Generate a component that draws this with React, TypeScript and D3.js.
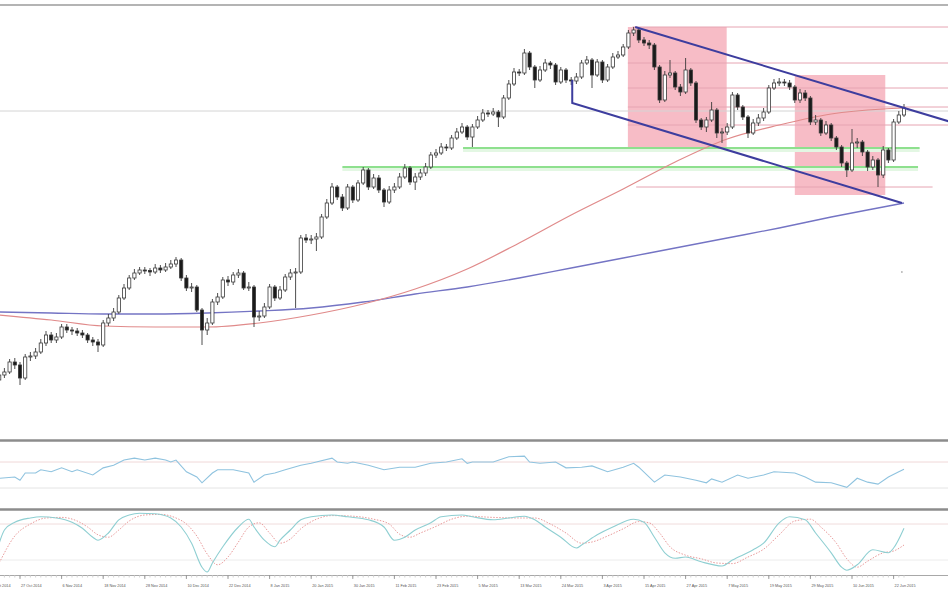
import React from 'react';
import * as d3 from 'd3';

const W = 948;
const H = 593;

// ---- OHLC (open = previous close) ----
const firstOpen = 8880;
const closes = [
  8930, 8960, 9060, 9030, 8900, 9110, 9120, 9160, 9250, 9330,
  9280, 9310, 9410, 9380, 9370, 9350, 9330, 9280, 9260, 9230,
  9450, 9500, 9560, 9700, 9800, 9900, 9950, 9980, 9975, 9960,
  10000, 9980, 10010, 10040, 10080, 9900, 9800, 9810, 9580, 9380,
  9450, 9660, 9710, 9880, 9860, 9930, 9950, 9800, 9810, 9510,
  9520, 9610, 9810, 9700, 9780, 9910, 9950, 9960, 10300, 10280,
  10290, 10310, 10510, 10650, 10810, 10710, 10600, 10810, 10680, 10850,
  10980, 10810, 10900, 10780, 10660, 10780, 10810, 10910, 11000, 10860,
  10910, 10950, 11010, 11130, 11150, 11210, 11200, 11300, 11360, 11410,
  11310, 11410, 11480, 11550, 11540, 11560, 11510, 11700, 11840, 11960,
  11950, 12150, 12010, 11880, 11980, 12050, 12030, 11860, 11980, 11880,
  11870, 11910, 12050, 12080, 11930, 12060, 11880, 12010, 12110, 12130,
  12210, 12350, 12380, 12280, 12250, 12230, 12010, 11680, 11930, 11950,
  11810, 11760, 11980, 11850, 11480, 11410, 11480, 11580, 11350, 11360,
  11410, 11730, 11610, 11510, 11350, 11450, 11500, 11560, 11800, 11850,
  11860, 11850, 11810, 11680, 11750, 11700, 11460, 11480, 11350, 11430,
  11300, 11210, 11050, 10980, 11250, 11260, 11160, 11010, 11080, 10930,
  11180, 11080, 11460, 11530, 11600,
];
const highs = [
  8970, 9000, 9090, 9100, 9060, 9140, 9160, 9200, 9290, 9370,
  9360, 9350, 9440, 9440, 9410, 9400, 9380, 9350, 9310, 9290,
  9480, 9540, 9600, 9730, 9840, 9930, 9990, 10010, 10010, 10000,
  10040, 10030, 10050, 10080, 10110, 10100, 9930, 9850, 9830, 9600,
  9500, 9690, 9750, 9910, 9920, 9960, 9990, 9970, 9860, 9830,
  9570, 9650, 9840, 9830, 9820, 9940, 9990, 10000, 10330, 10340,
  10330, 10350, 10540, 10690, 10850, 10830, 10740, 10840, 10830, 10880,
  11010, 11000, 10940, 10930, 10800, 10820, 10850, 10950, 11040, 11020,
  10950, 10990, 11050, 11160, 11190, 11250, 11240, 11330, 11400, 11450,
  11430, 11440, 11520, 11590, 11580, 11600, 11580, 11730, 11880, 12000,
  11990, 12190, 12170, 12030, 12020, 12090, 12070, 12050, 12010, 12000,
  11910, 11950, 12080, 12120, 12100, 12090, 12080, 12040, 12150, 12170,
  12240, 12380, 12410, 12400, 12310, 12280, 12250, 12030, 11970, 12080,
  11970, 11840, 12100, 12000, 11870, 11500, 11510, 11660, 11600, 11400,
  11450, 11760, 11750, 11630, 11530, 11490, 11540, 11600, 11830, 11890,
  11900, 11890, 11880, 11830, 11790, 11780, 11720, 11530, 11500, 11470,
  11450, 11320, 11230, 11070, 11390, 11300, 11280, 11180, 11120, 11100,
  11220, 11200, 11490, 11570, 11640,
];
const lows = [
  8850, 8900, 8940, 8990, 8830, 8880, 9070, 9090, 9140, 9220,
  9250, 9250, 9290, 9350, 9330, 9320, 9300, 9250, 9220, 9160,
  9210, 9420, 9470, 9540, 9680, 9780, 9880, 9930, 9940, 9920,
  9940, 9950, 9960, 9990, 10010, 9870, 9770, 9760, 9560, 9230,
  9330, 9430, 9630, 9690, 9820, 9830, 9900, 9780, 9770, 9410,
  9470, 9500, 9590, 9670, 9680, 9760, 9880, 9600, 9940, 10250,
  10240, 10170, 10290, 10490, 10630, 10680, 10570, 10580, 10650, 10660,
  10830, 10780, 10790, 10750, 10610, 10640, 10750, 10790, 10890, 10830,
  10780, 10880, 10920, 10990, 11100, 11130, 11170, 11180, 11280, 11340,
  11280, 11210, 11390, 11460, 11510, 11520, 11410, 11490, 11680, 11820,
  11920, 11930, 11980, 11800, 11860, 11960, 11990, 11830, 11840, 11850,
  11830, 11840, 11890, 12030, 11800, 11910, 11850, 11860, 11990, 12090,
  12110, 12190, 12320, 12250, 12220, 12190, 11980, 11650, 11660, 11900,
  11780, 11720, 11740, 11820, 11450, 11380, 11360, 11460, 11300, 11250,
  11330, 11390, 11580, 11480, 11300, 11330, 11420, 11470, 11540, 11780,
  11820, 11820, 11780, 11650, 11650, 11670, 11430, 11430, 11320, 11330,
  11270, 11180, 11010, 10910, 10960, 11200, 11120, 10970, 10980, 10810,
  10900, 11050, 11060, 11440, 11510,
];

// ---- moving averages (sampled at bar indices) ----
const maIdx = [0, 10, 20, 30, 40, 50, 60, 70, 80, 90, 100, 110, 120, 130, 140, 150, 160, 170, 174];
const maFast = [9530, 9480, 9420, 9410, 9410, 9450, 9530, 9640, 9790, 9990, 10250, 10530, 10790, 11060, 11290, 11430, 11540, 11590, 11600];
const maSlow = [9560, 9550, 9540, 9540, 9550, 9570, 9600, 9660, 9740, 9810, 9900, 10000, 10100, 10200, 10300, 10400, 10510, 10610, 10650];

// ---- RSI ----
const rsiIdx = [0,3,4,5,7,8,10,12,14,15,18,20,22,24,26,28,30,32,33,34,36,38,39,41,42,45,48,49,51,53,55,58,60,64,65,67,68,71,74,77,80,83,86,89,90,91,95,98,101,102,104,107,109,112,114,117,120,122,123,126,128,131,134,136,137,139,142,144,147,149,153,155,157,160,163,165,167,169,171,173,174];
const rsiVal = [45,47,42,53,53,58,55,61,55,58,50,61,65,73,76,73,76,73,70,73,55,47,38,53,58,58,53,39,50,53,58,65,68,76,70,68,70,65,58,62,62,68,70,75,68,70,70,78,79,70,68,70,61,62,64,55,62,68,62,39,50,47,42,38,44,39,50,45,50,55,53,47,39,38,31,45,39,36,47,55,59];

// ---- Stochastic ----
const stochIdx = [0,1,3,6,8,11,14,16,18,19,21,23,25,27,30,33,35,37,39,40,41,43,46,48,49,51,53,54,56,58,60,64,67,71,74,76,78,80,83,85,89,91,95,98,101,103,105,108,111,112,115,118,122,124,126,128,130,132,135,139,141,145,147,150,152,155,157,160,162,163,165,168,171,172,174];
const stochK = [48,70,83,90,92,90,83,73,58,53,65,87,95,98,97,90,75,48,8,0,15,42,75,88,75,53,42,53,70,87,92,95,92,87,75,53,58,70,82,92,95,92,87,90,93,87,75,58,40,45,62,75,88,83,58,32,23,25,17,10,20,37,48,82,92,87,65,32,8,3,12,37,32,40,73];
const sigIdx = [0,3,6,9,12,15,17,19,21,23,25,28,31,34,36,38,40,42,44,46,48,50,52,54,56,58,61,64,68,72,75,77,79,81,84,87,90,95,100,103,106,109,112,114,117,120,123,125,127,129,132,135,138,141,144,147,150,153,156,158,161,163,165,167,170,172,174];
const stochD = [15,60,80,90,91,85,75,62,58,70,85,95,96,90,80,60,30,12,25,50,75,82,65,48,55,72,88,94,93,88,80,63,58,65,76,88,93,91,90,90,80,65,48,50,60,72,84,82,65,42,28,22,15,14,25,38,62,85,88,75,48,22,8,18,32,35,45];

// ---- x-axis labels ----
const tickLabels = [
  '15 Oct 2014', '27 Oct 2014', '6 Nov 2014', '18 Nov 2014', '28 Nov 2014', '10 Dec 2014',
  '22 Dec 2014', '8 Jan 2015', '20 Jan 2015', '30 Jan 2015', '11 Feb 2015', '23 Feb 2015',
  '5 Mar 2015', '13 Mar 2015', '24 Mar 2015', '3 Apr 2015', '15 Apr 2015', '27 Apr 2015',
  '7 May 2015', '19 May 2015', '29 May 2015', '10 Jun 2015', '22 Jun 2015',
];
const tickIdx = [-2, 4, 12, 20, 28, 36, 44, 52, 60, 68, 76, 84, 92, 100, 108, 116, 124, 132, 140, 148, 156, 164, 172];

// ---- drawn objects (bar index, price) ----
const zones = [
  { i0: 120.9, i1: 139.9, p0: 11200, p1: 12410 },
  { i0: 153, i1: 170.4, p0: 10730, p1: 11930 },
];
const fibLevels = [
  { p: 12410, i0: 121.8, i1: 183 },
  { p: 12050, i0: 120.9, i1: 183 },
  { p: 11800, i0: 120.9, i1: 183 },
  { p: 11610, i0: 120.9, i1: 183 },
  { p: 11430, i0: 120.9, i1: 183 },
  { p: 10810, i0: 122.5, i1: 179.5 },
];
const greenLevels = [
  { p: 11200, i0: 89.2, i1: 177 },
  { p: 11010, i0: 66, i1: 176.7 },
];
const upperChannel = [ [122.3, 12410], [183, 11460] ];
const lowerChannel = [ [110.2, 11880], [110.2, 11650], [173.6, 10650] ];
const grayLevel = 11570;

export default function App() {
  const x = d3.scaleLinear().domain([0, 174]).range([-0.8, 904]);
  const y = d3.scaleLinear().domain([8300, 12620]).range([438, 6]);
  const yR = d3.scaleLinear().domain([0, 100]).range([507.5, 442.5]);
  const yS = d3.scaleLinear().domain([0, 100]).range([572, 512]);

  const opens = closes.map((c, i) => (i === 0 ? firstOpen : closes[i - 1]));

  const maLine = d3.line<number>()
    .x((_, k) => x(maIdx[k]))
    .y((v) => y(v))
    .curve(d3.curveMonotoneX);

  const rsiLine = d3.line<number>().x((_, k) => x(rsiIdx[k])).y((v) => yR(v));
  const kLine = d3.line<number>().x((_, k) => x(stochIdx[k])).y((v) => yS(v)).curve(d3.curveMonotoneX);
  const dLine = d3.line<number>().x((_, k) => x(sigIdx[k])).y((v) => yS(v)).curve(d3.curveMonotoneX);
  const pLine = d3.line<number[]>().x((d) => x(d[0])).y((d) => y(d[1]));

  const bw = 3.2;

  return (
    <svg
      width={W}
      height={H}
      viewBox={`0 0 ${W} ${H}`}
      style={{ position: 'absolute', left: 0, top: 0, background: '#fff', fontFamily: 'Liberation Sans, Arial, sans-serif' }}
    >
      <rect x={0} y={0} width={W} height={H} fill="#fff" />
      <defs>
        <clipPath id="mainClip"><rect x={0} y={6} width={W} height={433} /></clipPath>
      </defs>

      {/* top border */}
      <line x1={0} x2={W} y1={5} y2={5} stroke="#b4b4b4" strokeWidth={2} />

      <g clipPath="url(#mainClip)">
        {zones.map((z, k) => (
          <rect key={k} x={x(z.i0)} y={y(z.p1)} width={x(z.i1) - x(z.i0)} height={y(z.p0) - y(z.p1)} fill="#f7bcc6" />
        ))}
        <line x1={0} x2={W} y1={y(grayLevel)} y2={y(grayLevel)} stroke="#d4d4d4" strokeWidth={1} />
        {fibLevels.map((f, k) => (
          <line key={k} x1={x(f.i0)} x2={x(f.i1)} y1={y(f.p)} y2={y(f.p)} stroke="#e6a4b2" strokeWidth={1} />
        ))}
        {greenLevels.map((g, k) => (
          <g key={k}>
            <line x1={x(g.i0)} x2={x(g.i1)} y1={y(g.p) + 2} y2={y(g.p) + 2} stroke="#e3f7e3" strokeWidth={4} />
            <line x1={x(g.i0)} x2={x(g.i1)} y1={y(g.p)} y2={y(g.p)} stroke="#8ee08e" strokeWidth={2} />
          </g>
        ))}
        <path d={maLine(maSlow) || ''} fill="none" stroke="#7474c4" strokeWidth={1.3} />
        <path d={maLine(maFast) || ''} fill="none" stroke="#e08a8a" strokeWidth={1.2} />

        {closes.map((c, i) => {
          const o = opens[i];
          const cx = x(i);
          const top = y(Math.max(o, c));
          const bot = y(Math.min(o, c));
          const bull = c >= o;
          const hi = Math.max(highs[i], o, c);
          const lo = Math.min(lows[i], o, c);
          return (
            <g key={i}>
              <line x1={cx} x2={cx} y1={y(hi)} y2={y(lo)} stroke="#3a3a3a" strokeWidth={0.9} />
              <rect
                x={cx - bw / 2}
                y={top}
                width={bw}
                height={Math.max(1, bot - top)}
                fill={bull ? '#ffffff' : '#1a1a1a'}
                stroke="#3a3a3a"
                strokeWidth={0.8}
              />
            </g>
          );
        })}

        <path d={pLine(upperChannel) || ''} fill="none" stroke="#3d3d9e" strokeWidth={2} />
        <path d={pLine(lowerChannel) || ''} fill="none" stroke="#3d3d9e" strokeWidth={2} />

        <line x1={x(173.6)} x2={x(173.6)} y1={y(9970)} y2={y(9950)} stroke="#999" strokeWidth={1} />
      </g>

      <line x1={0} x2={W} y1={440.5} y2={440.5} stroke="#8c8c8c" strokeWidth={2.5} />
      <line x1={0} x2={W} y1={509.5} y2={509.5} stroke="#8c8c8c" strokeWidth={2.5} />

      <line x1={0} x2={W} y1={yR(70)} y2={yR(70)} stroke="#f0d8d8" strokeWidth={1} />
      <line x1={0} x2={W} y1={yR(30)} y2={yR(30)} stroke="#e4e4e4" strokeWidth={1} />
      <path d={rsiLine(rsiVal) || ''} fill="none" stroke="#8fc3df" strokeWidth={1.1} />

      <line x1={0} x2={W} y1={yS(80)} y2={yS(80)} stroke="#f0dcdc" strokeWidth={1} />
      <line x1={0} x2={W} y1={yS(20)} y2={yS(20)} stroke="#ececec" strokeWidth={1} />
      <path d={dLine(stochD) || ''} fill="none" stroke="#e99a9a" strokeWidth={1} strokeDasharray="1.5,1.5" />
      <path d={kLine(stochK) || ''} fill="none" stroke="#8fcfd2" strokeWidth={1.1} />

      <line x1={0} x2={W} y1={575.5} y2={575.5} stroke="#a8a8a8" strokeWidth={1} />
      {closes.map((_, i) => (
        <line key={i} x1={x(i)} x2={x(i)} y1={575} y2={577.5} stroke="#c8c8c8" strokeWidth={0.8} />
      ))}
      {tickLabels.map((t, k) => (
        <g key={t}>
          <line x1={x(tickIdx[k])} x2={x(tickIdx[k])} y1={575} y2={579} stroke="#888" strokeWidth={0.8} />
          <text x={x(tickIdx[k]) + 1} y={586.5} fontSize={3.8} fill="#555">{t}</text>
        </g>
      ))}
    </svg>
  );
}
